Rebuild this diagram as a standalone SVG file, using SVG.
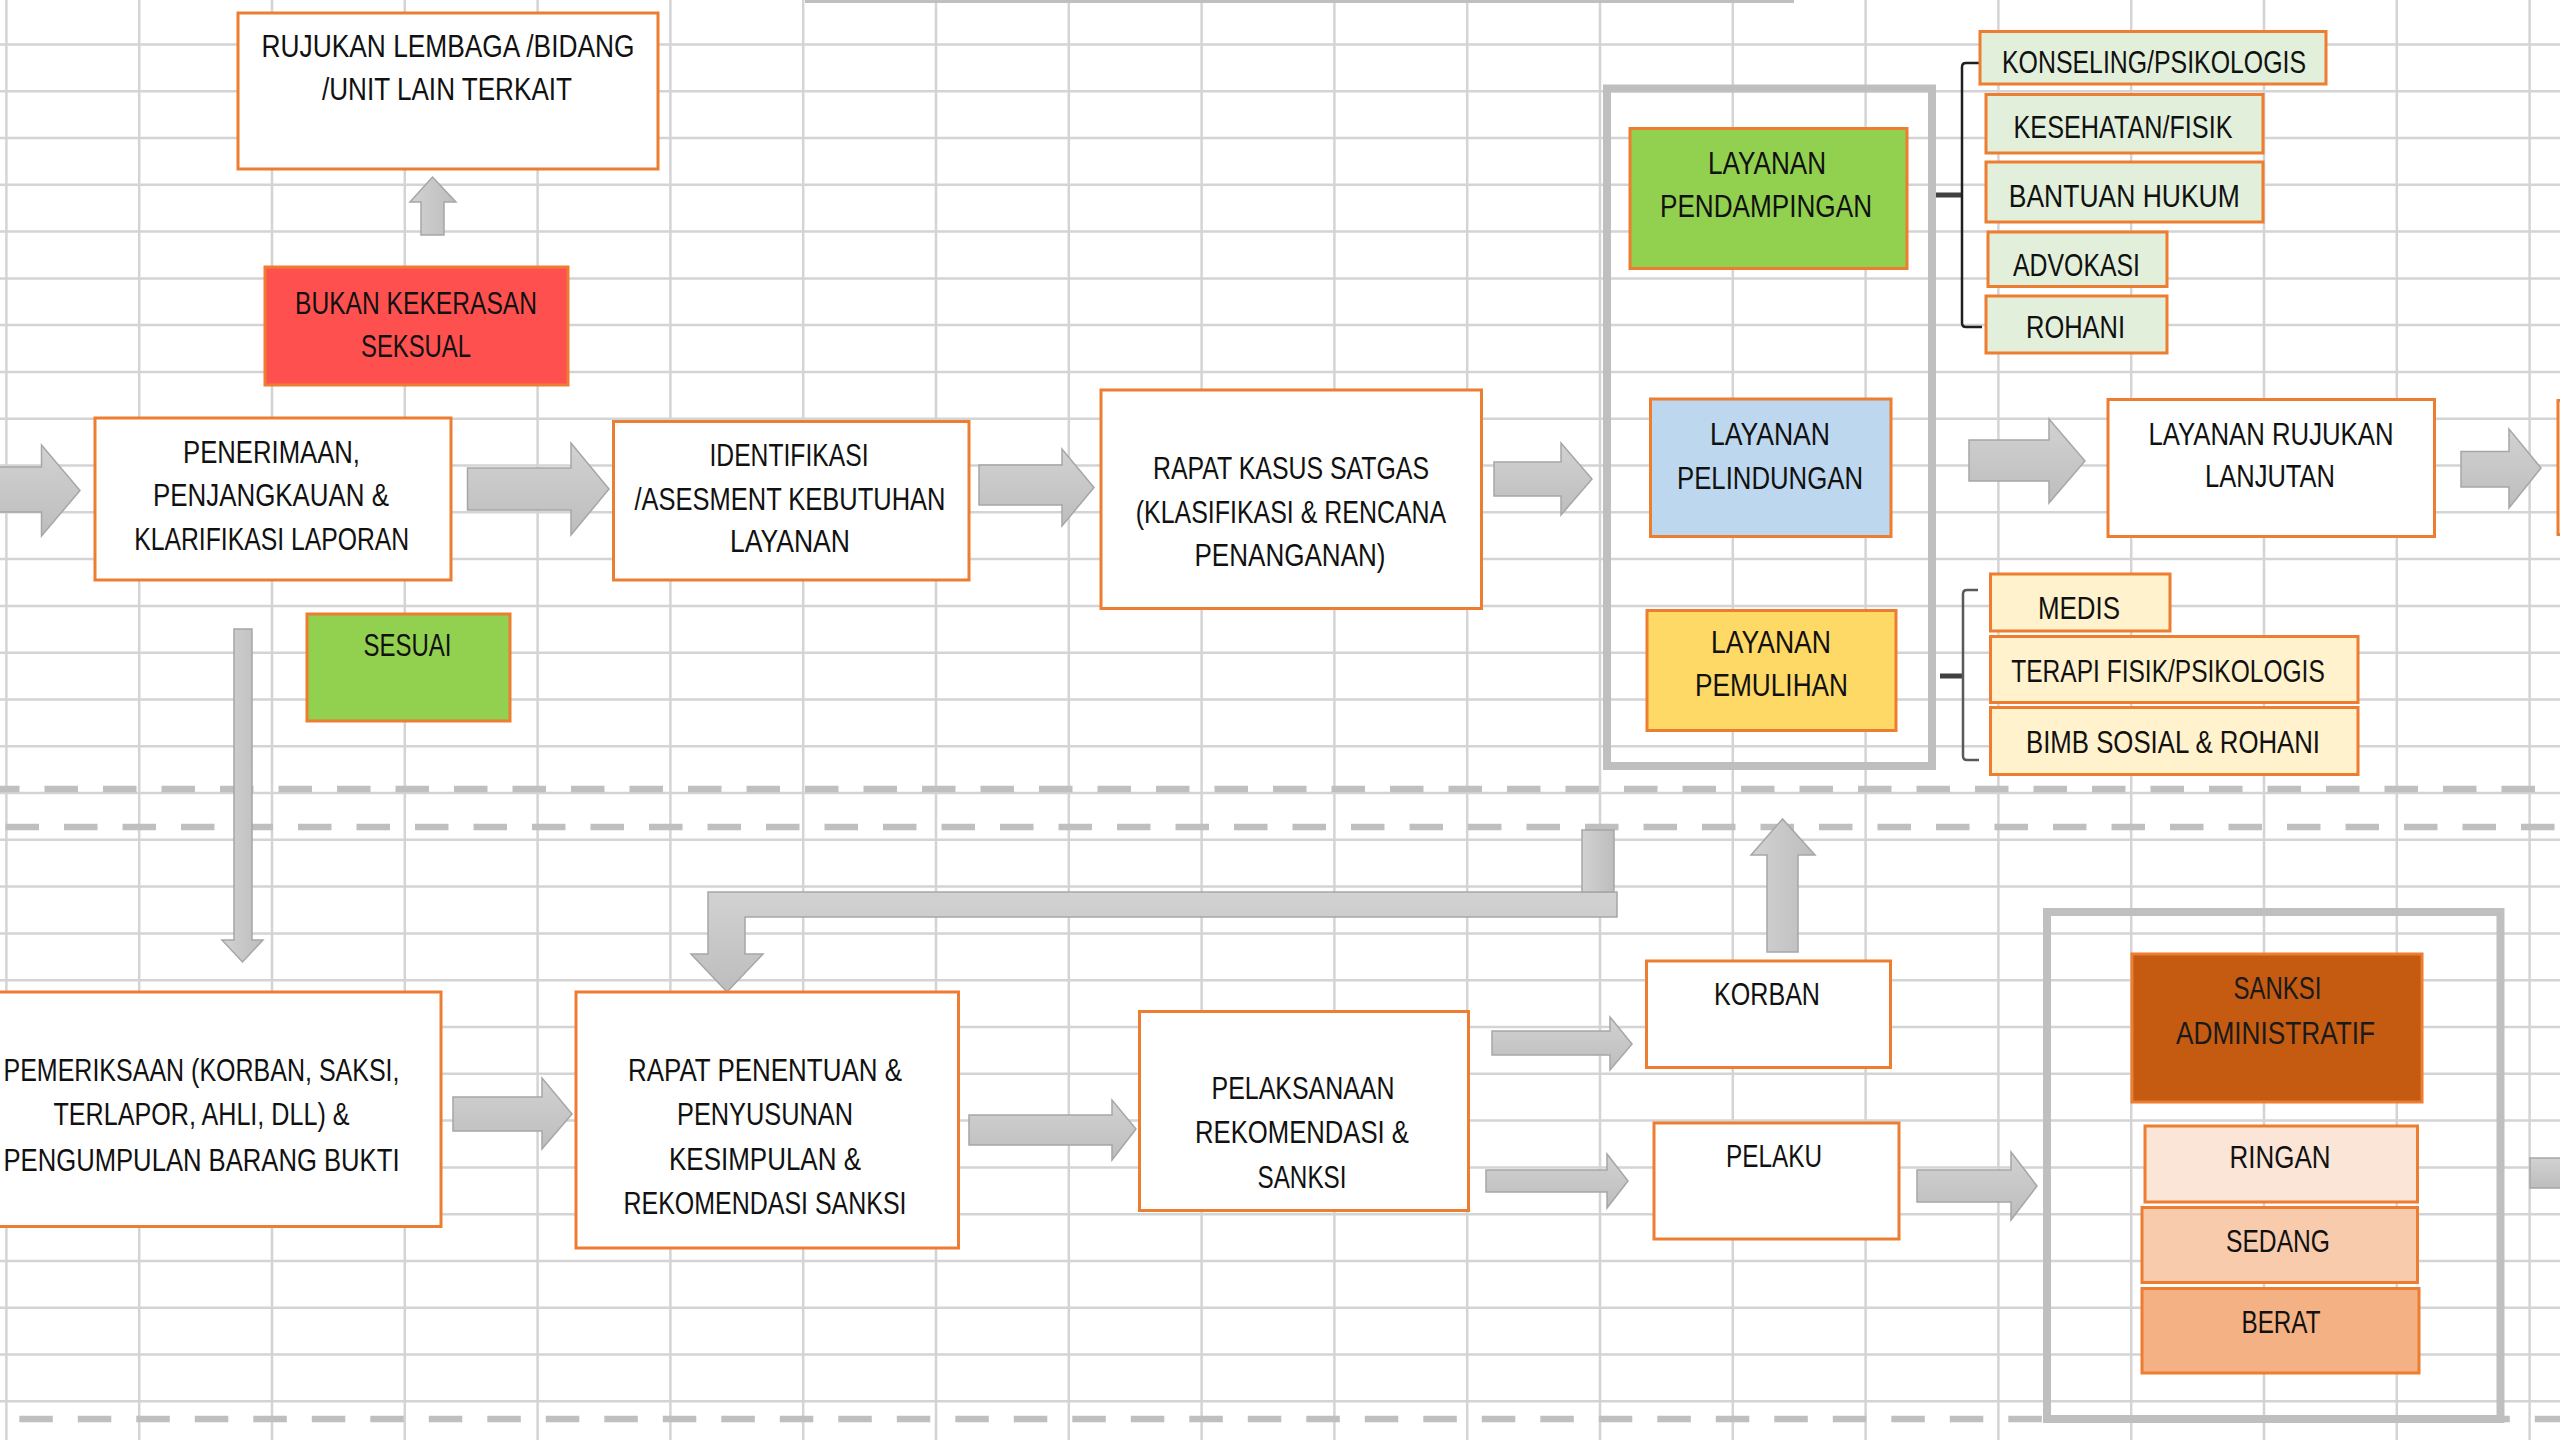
<svg xmlns="http://www.w3.org/2000/svg" width="2560" height="1440" viewBox="0 0 2560 1440">
<style>
.bg{fill:#ffffff}
.grid{stroke:#d4d4d4;stroke-width:2.5;fill:none}
.dash{stroke:#bfbfbf;stroke-width:6.5;stroke-dasharray:33.5 25;fill:none}
.box{fill:#ffffff;stroke:#ed7d31;stroke-width:3}
.red{fill:#ff5050}
.green{fill:#92d050}
.blue{fill:#bdd7ee}
.yellow{fill:#ffd966}
.lgreen{fill:#e2efda}
.lyellow{fill:#fff2cc}
.dorange{fill:#c55a11}
.o1{fill:#fbe5d6}
.o2{fill:#f8cbad}
.o3{fill:#f4b183}
.cont{fill:none;stroke:#bfbfbf;stroke-width:8}
.t{font-family:"Liberation Sans",Arial,sans-serif;font-size:32px;fill:#111111;text-anchor:middle}
.arr{fill:url(#ah);stroke:#a6a6a6;stroke-width:1.5;stroke-linejoin:miter}
.arrv{fill:url(#av);stroke:#a6a6a6;stroke-width:1.5}
.br{fill:none;stroke:#1f1f1f;stroke-width:2.5}
.br2{fill:none;stroke:#595959;stroke-width:2.5}
.stub{fill:none;stroke:#404040;stroke-width:5}
</style>
<defs>
<linearGradient id="ah" x1="0" y1="0" x2="0" y2="1">
<stop offset="0" stop-color="#d2d2d2"/>
<stop offset="1" stop-color="#bdbdbd"/>
</linearGradient>
<linearGradient id="av" x1="0" y1="0" x2="1" y2="0">
<stop offset="0" stop-color="#d2d2d2"/>
<stop offset="1" stop-color="#bdbdbd"/>
</linearGradient>
</defs>
<rect class="bg" x="0" y="0" width="2560" height="1440"/>
<g id="grid">
<path class="grid" d="M6.4,0V1440M139.2,0V1440M272,0V1440M404.8,0V1440M537.6,0V1440M670.4,0V1440M803.2,0V1440M936,0V1440M1068.8,0V1440M1201.6,0V1440M1334.4,0V1440M1467.2,0V1440M1600,0V1440M1732.8,0V1440M1865.6,0V1440M1998.4,0V1440M2131.2,0V1440M2264,0V1440M2396.8,0V1440M2529.6,0V1440"/>
<path class="grid" d="M0,44.4H2560M0,91.2H2560M0,138H2560M0,184.8H2560M0,231.6H2560M0,278.4H2560M0,325.1H2560M0,371.9H2560M0,418.7H2560M0,465.5H2560M0,512.3H2560M0,559.1H2560M0,605.9H2560M0,652.7H2560M0,699.5H2560M0,746.3H2560M0,793H2560M0,839.8H2560M0,886.6H2560M0,933.4H2560M0,980.2H2560M0,1027H2560M0,1073.8H2560M0,1120.6H2560M0,1167.4H2560M0,1214.2H2560M0,1261H2560M0,1307.7H2560M0,1354.5H2560M0,1401.3H2560"/>
<line x1="805" y1="1.5" x2="1794" y2="1.5" stroke="#bfbfbf" stroke-width="3"/>
</g>
<g id="separators">
<line class="dash" x1="-14" y1="789" x2="2560" y2="789"/>
<line class="dash" x1="5.5" y1="827" x2="2560" y2="827"/>
<line class="dash" x1="19.3" y1="1419" x2="2560" y2="1419"/>
</g>
<g id="connectors">
<path class="arr" d="M-5,467L41.5,467L41.5,445L80,490.5L41.5,536L41.5,512L-5,512Z"/>
<path class="arr" d="M467.5,468L571,468L571,443L609,489L571,535L571,510L467.5,510Z"/>
<path class="arr" d="M979,465L1062,465L1062,449L1094,487.5L1062,526L1062,505L979,505Z"/>
<path class="arr" d="M1494,462L1561,462L1561,443L1592,479L1561,515L1561,496L1494,496Z"/>
<path class="arr" d="M1969,440L2049,440L2049,419L2085,461L2049,503L2049,481L1969,481Z"/>
<path class="arr" d="M2461,451.5L2509,451.5L2509,429L2541,468L2509,508L2509,487L2461,487Z"/>
<path class="arrv" d="M421,235L421,202L410,202L432.5,177L456,202L444,202L444,235Z"/>
<path class="arrv" d="M234,629L252,629L252,940L263,940L242.5,962L222,940L234,940Z"/>
<path class="arr" d="M453,1097L542,1097L542,1078L572,1114L542,1149L542,1131L453,1131Z"/>
<path class="arr" d="M1617,892L1617,917L745,917L745,954L763,954L727,992L691,954L708,954L708,892Z"/>
<rect class="arrv" x="1582" y="830" width="32" height="62"/>
<path class="arr" d="M969,1115L1112,1115L1112,1100L1136,1129L1112,1160L1112,1145L969,1145Z"/>
<path class="arr" d="M1492,1031L1610,1031L1610,1017L1632,1044L1610,1070L1610,1055L1492,1055Z"/>
<path class="arr" d="M1486,1170L1607,1170L1607,1154L1628,1181L1607,1208L1607,1192L1486,1192Z"/>
<path class="arrv" d="M1767,952L1767,855L1751,855L1782.5,819L1815,855L1798,855L1798,952Z"/>
<path class="arr" d="M1917,1170L2011,1170L2011,1152L2037,1186L2011,1220L2011,1202L1917,1202Z"/>
<rect class="arr" x="2530" y="1158" width="40" height="30"/>
<path class="stub" d="M1934,195L1962,195"/>
<path class="br" d="M1979,63L1966,63Q1962,63 1962,67L1962,323Q1962,327 1966,327L1982,327"/>
<path class="stub" d="M1940,676L1963,676"/>
<path class="br2" d="M1978,590L1967,590Q1963,590 1963,594L1963,756Q1963,760 1967,760L1979,760"/>
</g>
<g id="rujukan-lembaga">
<rect class="box" x="238" y="13" width="420" height="156"/>
<text class="t" x="448" y="57" textLength="373" lengthAdjust="spacingAndGlyphs">RUJUKAN LEMBAGA /BIDANG</text>
<text class="t" x="447" y="100" textLength="250" lengthAdjust="spacingAndGlyphs">/UNIT LAIN TERKAIT</text>
</g>
<g id="bukan-kekerasan">
<rect class="box red" x="265" y="267" width="303" height="118"/>
<text class="t" x="416" y="313.5" textLength="242" lengthAdjust="spacingAndGlyphs">BUKAN KEKERASAN</text>
<text class="t" x="416" y="357" textLength="110" lengthAdjust="spacingAndGlyphs">SEKSUAL</text>
</g>
<g id="penerimaan">
<rect class="box" x="95" y="418" width="356" height="162"/>
<text class="t" x="271.5" y="463" textLength="177" lengthAdjust="spacingAndGlyphs">PENERIMAAN,</text>
<text class="t" x="271" y="506" textLength="236" lengthAdjust="spacingAndGlyphs">PENJANGKAUAN &amp;</text>
<text class="t" x="271.7" y="550" textLength="275" lengthAdjust="spacingAndGlyphs">KLARIFIKASI LAPORAN</text>
</g>
<g id="sesuai">
<rect class="box green" x="307" y="614" width="203" height="107"/>
<text class="t" x="407.5" y="655.5" textLength="88" lengthAdjust="spacingAndGlyphs">SESUAI</text>
</g>
<g id="identifikasi">
<rect class="box" x="613.5" y="421.5" width="355.5" height="158.5"/>
<text class="t" x="789" y="466" textLength="159" lengthAdjust="spacingAndGlyphs">IDENTIFIKASI</text>
<text class="t" x="790" y="510" textLength="311" lengthAdjust="spacingAndGlyphs">/ASESMENT KEBUTUHAN</text>
<text class="t" x="790" y="552" textLength="120" lengthAdjust="spacingAndGlyphs">LAYANAN</text>
</g>
<g id="rapat-kasus">
<rect class="box" x="1101" y="390" width="380.5" height="218.5"/>
<text class="t" x="1291" y="478.5" textLength="276" lengthAdjust="spacingAndGlyphs">RAPAT KASUS SATGAS</text>
<text class="t" x="1291" y="523" textLength="310.5" lengthAdjust="spacingAndGlyphs">(KLASIFIKASI &amp; RENCANA</text>
<text class="t" x="1290" y="566" textLength="191" lengthAdjust="spacingAndGlyphs">PENANGANAN)</text>
</g>
<g id="layanan-group">
<rect class="cont" x="1607" y="88.5" width="325" height="677.5"/>
</g>
<g id="layanan-pendampingan">
<rect class="box green" x="1630" y="128.5" width="277" height="140"/>
<text class="t" x="1767" y="173.5" textLength="118" lengthAdjust="spacingAndGlyphs">LAYANAN</text>
<text class="t" x="1766" y="217" textLength="212" lengthAdjust="spacingAndGlyphs">PENDAMPINGAN</text>
</g>
<g id="layanan-pelindungan">
<rect class="box blue" x="1650.5" y="399" width="240.5" height="137.5"/>
<text class="t" x="1770" y="445" textLength="120" lengthAdjust="spacingAndGlyphs">LAYANAN</text>
<text class="t" x="1770" y="489" textLength="186" lengthAdjust="spacingAndGlyphs">PELINDUNGAN</text>
</g>
<g id="layanan-pemulihan">
<rect class="box yellow" x="1647" y="610.5" width="249" height="120"/>
<text class="t" x="1771" y="653" textLength="120" lengthAdjust="spacingAndGlyphs">LAYANAN</text>
<text class="t" x="1771.5" y="696" textLength="153" lengthAdjust="spacingAndGlyphs">PEMULIHAN</text>
</g>
<g id="konseling">
<rect class="box lgreen" x="1980" y="31.5" width="346" height="52.5"/>
<text class="t" x="2154" y="73" textLength="304" lengthAdjust="spacingAndGlyphs">KONSELING/PSIKOLOGIS</text>
</g>
<g id="kesehatan">
<rect class="box lgreen" x="1986" y="94.5" width="277" height="58.5"/>
<text class="t" x="2123" y="138" textLength="219" lengthAdjust="spacingAndGlyphs">KESEHATAN/FISIK</text>
</g>
<g id="bantuan-hukum">
<rect class="box lgreen" x="1986" y="162" width="277" height="60"/>
<text class="t" x="2124.3" y="206.5" textLength="231" lengthAdjust="spacingAndGlyphs">BANTUAN HUKUM</text>
</g>
<g id="advokasi">
<rect class="box lgreen" x="1988" y="232" width="179" height="54.5"/>
<text class="t" x="2076.5" y="275.5" textLength="127" lengthAdjust="spacingAndGlyphs">ADVOKASI</text>
</g>
<g id="rohani">
<rect class="box lgreen" x="1986" y="296" width="181" height="57"/>
<text class="t" x="2075.5" y="338" textLength="99" lengthAdjust="spacingAndGlyphs">ROHANI</text>
</g>
<g id="medis">
<rect class="box lyellow" x="1990.5" y="574" width="179.5" height="57"/>
<text class="t" x="2079" y="619" textLength="82" lengthAdjust="spacingAndGlyphs">MEDIS</text>
</g>
<g id="terapi">
<rect class="box lyellow" x="1990.5" y="636.5" width="367.5" height="66"/>
<text class="t" x="2168" y="682" textLength="313.5" lengthAdjust="spacingAndGlyphs">TERAPI FISIK/PSIKOLOGIS</text>
</g>
<g id="bimb-sosial">
<rect class="box lyellow" x="1990.5" y="707.5" width="367.5" height="67"/>
<text class="t" x="2173" y="752.5" textLength="294" lengthAdjust="spacingAndGlyphs">BIMB SOSIAL &amp; ROHANI</text>
</g>
<g id="layanan-rujukan">
<rect class="box" x="2108" y="399.5" width="326.5" height="137"/>
<text class="t" x="2271" y="445" textLength="245" lengthAdjust="spacingAndGlyphs">LAYANAN RUJUKAN</text>
<text class="t" x="2270" y="487" textLength="130" lengthAdjust="spacingAndGlyphs">LANJUTAN</text>
</g>
<g id="next-box">
<rect class="box" x="2558" y="400.5" width="40" height="134"/>
</g>
<g id="pemeriksaan">
<rect class="box" x="-10" y="992" width="451" height="234.5"/>
<text class="t" x="201.5" y="1081" textLength="396" lengthAdjust="spacingAndGlyphs">PEMERIKSAAN (KORBAN, SAKSI,</text>
<text class="t" x="201.5" y="1125" textLength="296" lengthAdjust="spacingAndGlyphs">TERLAPOR, AHLI, DLL) &amp;</text>
<text class="t" x="201.5" y="1171" textLength="396" lengthAdjust="spacingAndGlyphs">PENGUMPULAN BARANG BUKTI</text>
</g>
<g id="rapat-penentuan">
<rect class="box" x="576" y="992" width="382.5" height="256"/>
<text class="t" x="765" y="1081" textLength="274" lengthAdjust="spacingAndGlyphs">RAPAT PENENTUAN &amp;</text>
<text class="t" x="765" y="1125" textLength="176" lengthAdjust="spacingAndGlyphs">PENYUSUNAN</text>
<text class="t" x="765" y="1170" textLength="192" lengthAdjust="spacingAndGlyphs">KESIMPULAN &amp;</text>
<text class="t" x="765" y="1214" textLength="283" lengthAdjust="spacingAndGlyphs">REKOMENDASI SANKSI</text>
</g>
<g id="pelaksanaan">
<rect class="box" x="1139.5" y="1011.5" width="329" height="199"/>
<text class="t" x="1303" y="1099" textLength="183" lengthAdjust="spacingAndGlyphs">PELAKSANAAN</text>
<text class="t" x="1302" y="1142.5" textLength="214" lengthAdjust="spacingAndGlyphs">REKOMENDASI &amp;</text>
<text class="t" x="1302" y="1188" textLength="89" lengthAdjust="spacingAndGlyphs">SANKSI</text>
</g>
<g id="korban">
<rect class="box" x="1646.5" y="961" width="244" height="106.5"/>
<text class="t" x="1767" y="1005" textLength="106" lengthAdjust="spacingAndGlyphs">KORBAN</text>
</g>
<g id="pelaku">
<rect class="box" x="1654" y="1123" width="245" height="116"/>
<text class="t" x="1774" y="1167" textLength="96" lengthAdjust="spacingAndGlyphs">PELAKU</text>
</g>
<g id="sanksi-group">
<rect class="cont" x="2047" y="912" width="453.5" height="507"/>
</g>
<g id="sanksi-administratif">
<rect class="box dorange" x="2132" y="954" width="290" height="148"/>
<text class="t" x="2277.5" y="999" textLength="88" lengthAdjust="spacingAndGlyphs" style="fill:#1a1a1a">SANKSI</text>
<text class="t" x="2275.5" y="1044" textLength="199" lengthAdjust="spacingAndGlyphs" style="fill:#1a1a1a">ADMINISTRATIF</text>
</g>
<g id="ringan">
<rect class="box o1" x="2145" y="1126" width="272.5" height="76"/>
<text class="t" x="2280" y="1168" textLength="101" lengthAdjust="spacingAndGlyphs">RINGAN</text>
</g>
<g id="sedang">
<rect class="box o2" x="2142" y="1207.5" width="275.5" height="75"/>
<text class="t" x="2278" y="1252" textLength="104" lengthAdjust="spacingAndGlyphs">SEDANG</text>
</g>
<g id="berat">
<rect class="box o3" x="2142" y="1288.5" width="277" height="84.5"/>
<text class="t" x="2281" y="1333" textLength="79" lengthAdjust="spacingAndGlyphs">BERAT</text>
</g>
</svg>
